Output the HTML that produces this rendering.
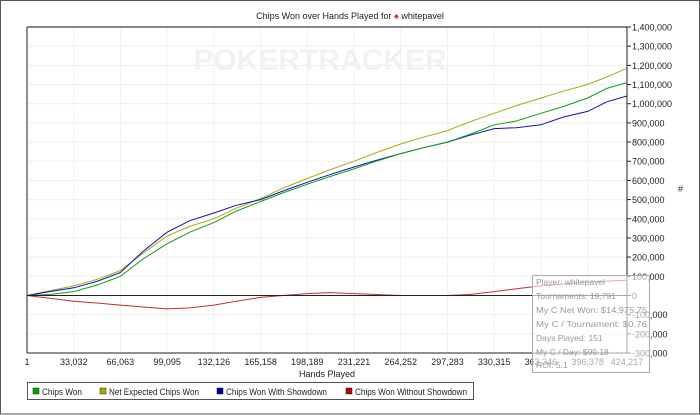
<!DOCTYPE html>
<html><head><meta charset="utf-8"><style>
body{margin:0;background:#fff;font-family:"Liberation Sans",sans-serif;}
svg{display:block}
</style></head><body>
<svg id="c" width="700" height="415" xmlns="http://www.w3.org/2000/svg" font-family="Liberation Sans, sans-serif">
<rect x="0.5" y="0.5" width="699" height="413.5" fill="#fff" stroke="#555"/>
<text x="350" y="19" font-size="9" text-anchor="middle" fill="#222">Chips Won over Hands Played for <tspan fill="#d22">♠</tspan> whitepavel</text>
<text x="320" y="70" font-size="30" font-weight="bold" text-anchor="middle" fill="#f2f2f2">POKERTRACKER</text>
<g id="grid"></g><g id="series"></g><g id="axes"></g>
<text x="678" y="192" font-size="9" fill="#222">#</text>
<text x="327" y="377" font-size="9" text-anchor="middle" fill="#222">Hands Played</text>
<g font-size="9" fill="#222">
<rect x="27.5" y="382.5" width="446" height="17" fill="#fff" stroke="#555"/>
<g><rect x="33" y="388" width="6" height="6" fill="#0a0" stroke="#222" stroke-width="0.5"/><text x="42" y="395" textLength="40" lengthAdjust="spacingAndGlyphs">Chips Won</text></g>
<g><rect x="100" y="388" width="6" height="6" fill="#aa0" stroke="#222" stroke-width="0.5"/><text x="109" y="395" textLength="90" lengthAdjust="spacingAndGlyphs">Net Expected Chips Won</text></g>
<g><rect x="217" y="388" width="6" height="6" fill="#00a" stroke="#222" stroke-width="0.5"/><text x="226" y="395" textLength="101" lengthAdjust="spacingAndGlyphs">Chips Won With Showdown</text></g>
<g><rect x="346" y="388" width="6" height="6" fill="#b00" stroke="#222" stroke-width="0.5"/><text x="355" y="395" textLength="112" lengthAdjust="spacingAndGlyphs">Chips Won Without Showdown</text></g>
</g>
<g>
<rect x="532.5" y="275.5" width="117" height="97" fill="rgba(255,255,255,0.6)" stroke="#aaa"/>
<g font-size="8.5" fill="#999">
<text x="536" y="285">Player: whitepavel</text>
<text x="536" y="299">Tournaments: 19,791</text>
<text x="536" y="313" textLength="111" lengthAdjust="spacingAndGlyphs">My C Net Won: $14,975.75</text>
<text x="536" y="327" textLength="111" lengthAdjust="spacingAndGlyphs">My C / Tournament: $0.76</text>
<text x="536" y="341">Days Played: 151</text>
<text x="536" y="355">My C / Day: $99.18</text>
<text x="536" y="368">ROI: 5.1</text>
</g></g>
</svg>
<script>
const hands=[0,16000,33032,50000,66063,82000,99095,115000,132126,148000,165158,181000,198189,214000,231221,247000,264252,280000,297283,313000,330315,346000,363346,379000,396378,410000,424217];
const chipsWon=[0,5,20,55,100,190,270,330,380,440,490,535,580,620,660,700,740,770,800,840,890,910,950,985,1030,1080,1110];
const netExpected=[0,25,50,85,130,220,310,360,400,455,505,560,610,655,700,745,790,825,860,905,950,990,1030,1065,1100,1140,1185];
const withShowdown=[0,20,40,75,120,230,330,390,430,470,500,545,590,630,670,705,740,770,800,835,870,875,890,930,960,1010,1040];
const withoutShowdown=[0,-15,-30,-40,-50,-60,-70,-65,-50,-30,-10,0,10,15,10,5,0,0,0,5,20,35,50,60,70,75,80];
const xTicks=[1,33032,66063,99095,132126,165158,198189,231221,264252,297283,330315,363346,396378,424217];
const yTicks=[1400,1300,1200,1100,1000,900,800,700,600,500,400,300,200,100,0,-100,-200,-300];
const L=27,R=627,T=27,B=353,XMAX=424217,YMAX=1400,YMIN=-300;
const xs=v=>L+(v-1)/(XMAX-1)*(R-L);
const ys=v=>T+(YMAX-v)/(YMAX-YMIN)*(B-T);
const NS="http://www.w3.org/2000/svg";
function mk(tag,at,parent){const e=document.createElementNS(NS,tag);for(const k in at)e.setAttribute(k,at[k]);document.getElementById(parent).appendChild(e);return e;}
const fmt=v=>(v*1000).toLocaleString('en-US');
yTicks.forEach(v=>{
 const g=mk('line',{x1:L,x2:R,y1:ys(v),y2:ys(v),stroke:'#eee'},'grid');
 
 
 const tk=mk('line',{x1:R,x2:R+4,y1:ys(v),y2:ys(v),stroke:'#222'},'axes');
 
 
 const t=mk('text',{x:R+5,y:ys(v)+3.5,'font-size':'9',fill:'#222'},'axes');
 t.textContent=v===0?'0':fmt(v);
 
 
});
xTicks.forEach(v=>{
 const g=mk('line',{x1:xs(v),x2:xs(v),y1:T,y2:B,stroke:'#f0f0f0'},'grid');
 
 
 const t=mk('text',{x:xs(v),y:B+12,'font-size':'9',fill:'#222','text-anchor':'middle'},'axes');
 t.textContent=v.toLocaleString('en-US');
 
 
});
let a=mk('line',{x1:L,x2:R,y1:T,y2:T,stroke:'#888','stroke-width':2},'axes');
a=mk('line',{x1:L,x2:L,y1:T,y2:B,stroke:'#222'},'axes');
a=mk('line',{x1:R,x2:R,y1:T,y2:B,stroke:'#222'},'axes');
a=mk('line',{x1:L,x2:R,y1:B,y2:B,stroke:'#222'},'axes');
a=mk('line',{x1:L,x2:R,y1:ys(0),y2:ys(0),stroke:'#222'},'axes');
function line(arr,col,name){
 const d=arr.map((v,i)=>(i?'L':'M')+xs(hands[i]).toFixed(1)+','+ys(v).toFixed(1)).join('');
 const p=mk('path',{d:d,fill:'none',stroke:col,'stroke-width':1},'series');
 
 
}
line(withoutShowdown,'#c03030','series-without-showdown');
line(netExpected,'#aaaa10','series-net-expected');
line(withShowdown,'#1010b0','series-with-showdown');
line(chipsWon,'#10a010','series-chips-won');
</script>
</body></html>
